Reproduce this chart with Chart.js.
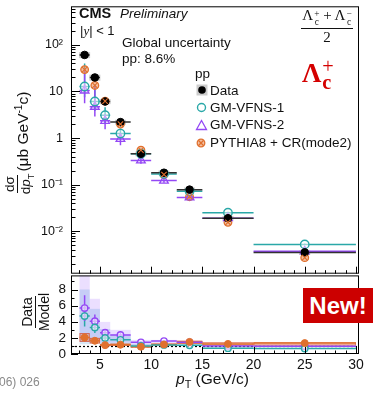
<!DOCTYPE html>
<html><head><meta charset="utf-8">
<script src="https://cdn.jsdelivr.net/npm/chart.js@4/dist/chart.umd.min.js"></script>
<style>
html,body{margin:0;padding:0;background:#fff;}
#wrap{position:relative;width:383px;height:394px;overflow:hidden;font-family:"Liberation Sans",Arial,sans-serif;color:#111;}
canvas{position:absolute;left:0;}
.t{position:absolute;white-space:nowrap;line-height:1;}
.frac{display:inline-flex;flex-direction:column;align-items:center;line-height:1;vertical-align:middle;}
.frac .num{border-bottom:1.3px solid #111;padding:0 1px 1px;}
.frac .den{padding-top:1px;}
.ss{display:inline-flex;flex-direction:column;font-size:0.62em;line-height:0.9;vertical-align:0.32em;margin-left:1px;}
.serif{font-family:"Liberation Serif","Times New Roman",serif;}
</style></head><body>
<div id="wrap">
<canvas id="main" width="383" height="280" style="top:0;width:383px;height:280px"></canvas>
<canvas id="ratio" width="383" height="124" style="top:270px;width:383px;height:124px"></canvas>

<div class="t" style="left:79px;top:6px;font-size:14.5px;font-weight:bold;">CMS</div>
<div class="t" style="left:120px;top:6.5px;font-size:13.5px;font-style:italic;">Preliminary</div>
<div class="t" style="left:80px;top:24px;font-size:13px;">|<i class="serif">y</i>| &lt; 1</div>
<div class="t" style="left:122px;top:36px;font-size:13.5px;">Global uncertainty</div>
<div class="t" style="left:122px;top:52px;font-size:13.5px;">pp: 8.6%</div>
<div class="t" style="left:195px;top:67px;font-size:13.5px;">pp</div>
<div class="t" style="left:210px;top:83.5px;font-size:13.5px;">Data</div>
<div class="t" style="left:210px;top:100.5px;font-size:13.5px;">GM-VFNS-1</div>
<div class="t" style="left:210px;top:118px;font-size:13.5px;">GM-VFNS-2</div>
<div class="t" style="left:210px;top:135.5px;font-size:13.5px;">PYTHIA8 + CR(mode2)</div>

<div class="t serif" style="left:296px;top:8px;width:62px;text-align:center;font-size:15px;">
  <span class="frac"><span class="num">Λ<span class="ss"><span>+</span><span>c</span></span> + Λ<span class="ss"><span>−</span><span>c</span></span></span><span class="den">2</span></span>
</div>
<div class="t serif" style="left:302px;top:58px;font-size:27px;font-weight:bold;color:#d40000;">Λ<span class="ss" style="font-size:0.75em;line-height:0.8;vertical-align:0.45em;"><span style="font-weight:normal;">+</span><span>c</span></span></div>

<div class="t" style="left:303px;top:288px;width:70px;height:35px;background:#cc0000;color:#fff;font-size:24px;font-weight:bold;text-align:center;line-height:35px;">New!</div>
<div class="t" style="left:-1px;top:376px;font-size:12px;color:#8a8a8a;">06) 026</div>

<div class="t" style="left:176px;top:371px;font-size:15.5px;"><i>p</i><sub style="font-size:0.7em;">T</sub> (GeV/c)</div>

<div class="t" style="left:-56px;top:126px;width:150px;height:34px;display:flex;align-items:center;justify-content:center;transform:rotate(-90deg);font-size:15.5px;">
  <span class="frac" style="font-size:13.5px;"><span class="num">dσ</span><span class="den">d<i>p</i><sub style="font-size:0.7em;">T</sub></span></span><span style="position:relative;top:3px;margin-left:2px;">(μb GeV<sup style="font-size:0.65em;">-1</sup>c)</span>
</div>
<div class="t" style="left:5px;top:298px;width:60px;height:28px;display:flex;align-items:center;justify-content:center;transform:rotate(-90deg);font-size:14px;">
  <span class="frac"><span class="num">Data</span><span class="den">Model</span></span>
</div>
</div>

<script>
// ---------- data ----------
const binLow    = [3, 4, 5, 6, 8, 10, 12.5, 15, 20];
const binHigh   = [4, 5, 6, 8, 10, 12.5, 15, 20, 30];
const ptCenter  = [3.5, 4.5, 5.5, 7, 9, 11.25, 13.75, 17.5, 25];

const dataXsec  = [61, 20, 6.1, 2.2, 0.46, 0.18, 0.078, 0.019, 0.0035];
const dataStat  = [5, 1.5, 0.4, 0.12, 0.025, 0.01, 0.005, 0.0012, 0.0003];
const dataSys   = [9, 3, 0.75, 0.27, 0.055, 0.021, 0.009, 0.0022, 0.0004];

const vfns1     = [12.8, 6.1, 3.1, 1.25, 0.46, 0.17, 0.072, 0.025, 0.0052];
const vfns1Low  = [7.5, 3.8, 2.1, 0.95, 0.40, 0.155, 0.066, 0.024, 0.0050];
const vfns1High = [40, 14, 4.6, 1.6, 0.52, 0.19, 0.078, 0.026, 0.0054];

const vfns2     = [10.5, 4.7, 2.35, 0.96, 0.33, 0.122, 0.053, 0.019, 0.0037];
const vfns2Low  = [5.6, 2.9, 1.55, 0.70, 0.28, 0.11, 0.048, 0.018, 0.0036];
const vfns2High = [31, 14, 3.2, 1.2, 0.40, 0.14, 0.058, 0.020, 0.0038];

const pythia    = [29.5, 13.5, 6.2, 2.0, 0.55, 0.165, 0.055, 0.0155, 0.0027];

const ratioV1     = [4.7, 3.3, 2.0, 1.76, 1.0, 1.12, 1.08, 0.72, 0.68];
const ratioV1Err  = [1.3, 0.7, 0.35, 0.3, 0.12, 0.1, 0.08, 0.04, 0.04];
const ratioV1Low  = [1.2, 1.3, 1.1, 1.1, 0.85, 0.95, 0.95, 0.64, 0.6];
const ratioV1High = [8.0, 5.6, 3.1, 2.4, 1.25, 1.25, 1.2, 0.8, 0.75];

const ratioV2     = [5.7, 4.06, 2.65, 2.36, 1.45, 1.6, 1.45, 1.0, 0.97];
const ratioV2Err  = [1.6, 0.85, 0.4, 0.35, 0.15, 0.12, 0.1, 0.04, 0.04];
const ratioV2Low  = [1.5, 1.6, 1.4, 1.4, 1.1, 1.3, 1.25, 0.92, 0.9];
const ratioV2High = [10.5, 6.85, 3.98, 3.0, 1.75, 1.75, 1.65, 1.05, 1.05];

const ratioPy     = [2.04, 1.64, 1.1, 1.15, 0.9, 1.18, 1.5, 1.25, 1.35];
const ratioPyErr  = [0.5, 0.3, 0.12, 0.1, 0.1, 0.1, 0.12, 0.1, 0.12];
const ratioPyLow  = [1.5, 1.3, 0.95, 1.0, 0.8, 1.05, 1.25, 1.05, 1.05];
const ratioPyHigh = [2.6, 2.0, 1.25, 1.3, 1.0, 1.3, 1.65, 1.45, 1.45];

const xTicks       = [5, 10, 15, 20, 25, 30];
const yTicks       = [0.01, 0.1, 1, 10, 100];
const yTickLabels  = ['10⁻²', '10⁻¹', '1', '10', '10²'];
const ratioTicks   = [0, 2, 4, 6, 8];

// ---------- style ----------
const X_MIN = 2.17, X_MAX = 30.3;
const Y_MIN = 1.22e-3, Y_MAX = 676;
const R_MAX = 9.75;
const C_TEAL = '#2aa8a8', C_PUR = '#9448f5', C_OR = '#e0702e';

function pts(xs, ys){ return xs.map((x,i)=>({x, y: ys[i]})); }

function clipArea(ctx, a){ ctx.beginPath(); ctx.rect(a.left, a.top, a.right-a.left, a.bottom-a.top); ctx.clip(); }

function fitV(s){ s.width = 71; s.paddingTop = 0; s.paddingBottom = 0; }
function fitH(s){ s.height = 40; s.paddingLeft = 0; s.paddingRight = 0; }

function drawBars(ctx, x, y, vals, lo, hi, color, lw, withH){
  ctx.strokeStyle = color; ctx.lineWidth = lw;
  vals.forEach((v,i)=>{
    const cx = x.getPixelForValue(ptCenter[i]);
    const cy = y.getPixelForValue(v);
    ctx.beginPath();
    if (withH){
      ctx.moveTo(x.getPixelForValue(binLow[i]), cy);
      ctx.lineTo(x.getPixelForValue(binHigh[i]), cy);
    }
    if (lo && hi){
      ctx.moveTo(cx, y.getPixelForValue(lo[i]));
      ctx.lineTo(cx, y.getPixelForValue(hi[i]));
    }
    ctx.stroke();
  });
}

function drawFrame(ctx, a){
  ctx.strokeStyle = '#000'; ctx.lineWidth = 1;
  ctx.strokeRect(a.left+0.5, a.top+0.5, a.right-a.left-1, a.bottom-a.top-1);
}

function drawXTicks(ctx, x, a){
  ctx.strokeStyle = '#000'; ctx.lineWidth = 1;
  ctx.beginPath();
  for (let v = 3; v <= 30; v++){
    const p = Math.round(x.getPixelForValue(v)) + 0.5;
    const len = v % 5 === 0 ? 7 : 3.5;
    ctx.moveTo(p, a.bottom); ctx.lineTo(p, a.bottom - len);
  }
  ctx.stroke();
}

const mainPlugin = {
  id: 'mainExtras',
  beforeDatasetsDraw(chart){
    const {ctx, chartArea: a, scales: {x, y}} = chart;
    ctx.save(); clipArea(ctx, a);
    ctx.fillStyle = 'rgba(0,0,0,0.2)';
    dataXsec.forEach((v,i)=>{
      const cx = x.getPixelForValue(ptCenter[i]);
      const y1 = y.getPixelForValue(v + dataSys[i]);
      const y2 = y.getPixelForValue(v - dataSys[i]);
      ctx.fillRect(cx - 5.5, y1, 11, y2 - y1);
    });
    drawBars(ctx, x, y, vfns1, vfns1Low, vfns1High, C_TEAL, 1.5, true);
    drawBars(ctx, x, y, vfns2, vfns2Low, vfns2High, C_PUR, 1.5, true);
    drawBars(ctx, x, y, dataXsec, dataXsec.map((v,i)=>v-dataStat[i]), dataXsec.map((v,i)=>v+dataStat[i]), '#333', 1.5, true);
    ctx.restore();
  },
  afterDatasetsDraw(chart){
    const {ctx, chartArea: a, scales: {x, y}} = chart;
    ctx.save(); clipArea(ctx, a);
    ctx.strokeStyle = C_OR; ctx.lineWidth = 1.1;
    pythia.forEach((v,i)=>{
      const cx = x.getPixelForValue(ptCenter[i]), cy = y.getPixelForValue(v);
      ctx.beginPath(); ctx.moveTo(cx-2.7,cy-2.7); ctx.lineTo(cx+2.7,cy+2.7); ctx.moveTo(cx+2.7,cy-2.7); ctx.lineTo(cx-2.7,cy+2.7); ctx.stroke();
    });
    ctx.restore();
  },
  afterDraw(chart){
    const {ctx, chartArea: a, scales: {x, y}} = chart;
    ctx.save();
    drawFrame(ctx, a);
    drawXTicks(ctx, x, a);
    ctx.beginPath();
    for (let d = -3; d <= 2; d++){
      for (let m = 1; m <= 9; m++){
        const v = m * Math.pow(10, d);
        if (v < Y_MIN || v > Y_MAX) continue;
        const p = Math.round(y.getPixelForValue(v)) + 0.5;
        const len = m === 1 ? 9 : 4.5;
        ctx.moveTo(a.left, p); ctx.lineTo(a.left + len, p);
      }
    }
    ctx.stroke();
    // legend markers
    ctx.fillStyle = 'rgba(0,0,0,0.2)';
    ctx.fillRect(196.5, 84.5, 11, 11);
    ctx.fillStyle = '#000';
    ctx.beginPath(); ctx.arc(202, 90, 3.8, 0, Math.PI*2); ctx.fill();
    ctx.strokeStyle = C_TEAL; ctx.lineWidth = 1.4;
    ctx.beginPath(); ctx.arc(201.5, 107.5, 4, 0, Math.PI*2); ctx.stroke();
    ctx.strokeStyle = C_PUR; ctx.lineWidth = 1.3;
    ctx.beginPath(); ctx.moveTo(201.5, 120.5); ctx.lineTo(206.5, 129.5); ctx.lineTo(196.5, 129.5); ctx.closePath(); ctx.stroke();
    ctx.fillStyle = 'rgba(236,150,100,0.6)'; ctx.strokeStyle = C_OR; ctx.lineWidth = 1.3;
    ctx.beginPath(); ctx.arc(201, 143, 3.8, 0, Math.PI*2); ctx.fill(); ctx.stroke();
    ctx.beginPath(); ctx.moveTo(198.3,140.3); ctx.lineTo(203.7,145.7); ctx.moveTo(203.7,140.3); ctx.lineTo(198.3,145.7); ctx.stroke();
    ctx.restore();
  }
};

const ratioPlugin = {
  id: 'ratioExtras',
  beforeDatasetsDraw(chart){
    const {ctx, chartArea: a, scales: {x, y}} = chart;
    ctx.save(); clipArea(ctx, a);
    const boxes = [
      [ratioV2Low, ratioV2High, 'rgba(170,120,255,0.24)', null],
      [ratioV1Low, ratioV1High, 'rgba(50,130,210,0.2)', null],
      [ratioPyLow, ratioPyHigh, 'rgba(230,120,60,0.28)', 'rgba(210,70,40,0.7)']
    ];
    boxes.forEach(([lo, hi, fill, stroke])=>{
      lo.forEach((l,i)=>{
        const x1 = x.getPixelForValue(binLow[i]), x2 = x.getPixelForValue(binHigh[i]);
        const y1 = y.getPixelForValue(hi[i]), y2 = y.getPixelForValue(l);
        ctx.fillStyle = fill; ctx.fillRect(x1, y1, x2-x1, y2-y1);
        if (stroke){ ctx.strokeStyle = stroke; ctx.lineWidth = 1; ctx.strokeRect(x1+0.5, y1+0.5, x2-x1-1, y2-y1-1); }
      });
    });
    ctx.strokeStyle = '#000'; ctx.lineWidth = 1.2; ctx.setLineDash([2,2]);
    const p1 = Math.round(y.getPixelForValue(1)) + 0.5;
    ctx.beginPath(); ctx.moveTo(a.left, p1); ctx.lineTo(a.right, p1); ctx.stroke();
    ctx.setLineDash([]);
    const err = (v,e,s)=>v.map((c,i)=>c + s*e[i]);
    drawBars(ctx, x, y, ratioPy, err(ratioPy,ratioPyErr,-1), err(ratioPy,ratioPyErr,1), C_OR, 1.5, true);
    drawBars(ctx, x, y, ratioV1, err(ratioV1,ratioV1Err,-1), err(ratioV1,ratioV1Err,1), C_TEAL, 1.5, true);
    drawBars(ctx, x, y, ratioV2, err(ratioV2,ratioV2Err,-1), err(ratioV2,ratioV2Err,1), C_PUR, 1.5, true);
    ctx.restore();
  },
  afterDraw(chart){
    const {ctx, chartArea: a, scales: {x, y}} = chart;
    ctx.save();
    drawFrame(ctx, a);
    drawXTicks(ctx, x, a);
    ctx.beginPath();
    for (let v = 0; v <= 9; v++){
      const p = Math.round(y.getPixelForValue(v)) + 0.5;
      const len = v % 2 === 0 ? 7 : 3.5;
      ctx.moveTo(a.left, p); ctx.lineTo(a.left + len, p);
    }
    ctx.stroke();
    ctx.restore();
  }
};

const tickFont = {family: '"Liberation Sans", Arial, sans-serif', size: 12.5};

new Chart(document.getElementById('main'), {
  type: 'scatter',
  data: { datasets: [
    {label:'Data', data: pts(ptCenter, dataXsec), pointStyle:'circle', pointRadius:3.8, backgroundColor:'#000', borderColor:'#000', borderWidth:1},
    {label:'GM-VFNS-1', data: pts(ptCenter, vfns1), pointStyle:'circle', pointRadius:4.2, backgroundColor:'rgba(255,255,255,0.5)', borderColor:C_TEAL, borderWidth:1.4},
    {label:'GM-VFNS-2', data: pts(ptCenter, vfns2), pointStyle:'triangle', pointRadius:5, backgroundColor:'rgba(255,255,255,0)', borderColor:C_PUR, borderWidth:1.3},
    {label:'PYTHIA8 + CR(mode2)', data: pts(ptCenter, pythia), pointStyle:'circle', pointRadius:3.8, backgroundColor:'rgba(236,150,100,0.6)', borderColor:C_OR, borderWidth:1.3}
  ]},
  options: {
    responsive:false, animation:false, devicePixelRatio:1,
    layout:{padding:{left:0, right:24, top:4, bottom:6}},
    plugins:{legend:{display:false}, tooltip:{enabled:false}},
    scales:{
      x:{type:'linear', min:X_MIN, max:X_MAX, display:false},
      y:{type:'logarithmic', min:Y_MIN, max:Y_MAX,
         afterFit: fitV,
         afterBuildTicks(s){ s.ticks = yTicks.map(v=>({value:v})); },
         grid:{display:false, drawTicks:false}, border:{display:false},
         ticks:{autoSkip:false, padding:8, color:'#111', font:tickFont, callback:(v,i)=>yTickLabels[i]}}
    }
  },
  plugins:[mainPlugin]
});

new Chart(document.getElementById('ratio'), {
  type: 'scatter',
  data: { datasets: [
    {label:'PYTHIA8 + CR(mode2)', data: pts(ptCenter, ratioPy), pointStyle:'circle', pointRadius:3.5, backgroundColor:C_OR, borderColor:C_OR, borderWidth:1},
    {label:'GM-VFNS-1', data: pts(ptCenter, ratioV1), pointStyle:'circle', pointRadius:3.2, backgroundColor:'rgba(255,255,255,0.6)', borderColor:C_TEAL, borderWidth:1.4},
    {label:'GM-VFNS-2', data: pts(ptCenter, ratioV2), pointStyle:'circle', pointRadius:3.2, backgroundColor:'rgba(255,255,255,0.6)', borderColor:C_PUR, borderWidth:1.4}
  ]},
  options: {
    responsive:false, animation:false, devicePixelRatio:1,
    layout:{padding:{left:0, right:24, top:4, bottom:0}},
    plugins:{legend:{display:false}, tooltip:{enabled:false}},
    scales:{
      x:{type:'linear', min:X_MIN, max:X_MAX,
         afterFit: fitH,
         afterBuildTicks(s){ s.ticks = xTicks.map(v=>({value:v})); },
         grid:{display:false, drawTicks:false}, border:{display:false},
         ticks:{autoSkip:false, maxRotation:0, padding:3, color:'#111', font:{family: tickFont.family, size:14}}},
      y:{type:'linear', min:0, max:R_MAX,
         afterFit: fitV,
         afterBuildTicks(s){ s.ticks = ratioTicks.map(v=>({value:v})); },
         grid:{display:false, drawTicks:false}, border:{display:false},
         ticks:{autoSkip:false, padding:5, color:'#111', font:{family: tickFont.family, size:13.5}}}
    }
  },
  plugins:[ratioPlugin]
});
</script>
</body></html>
